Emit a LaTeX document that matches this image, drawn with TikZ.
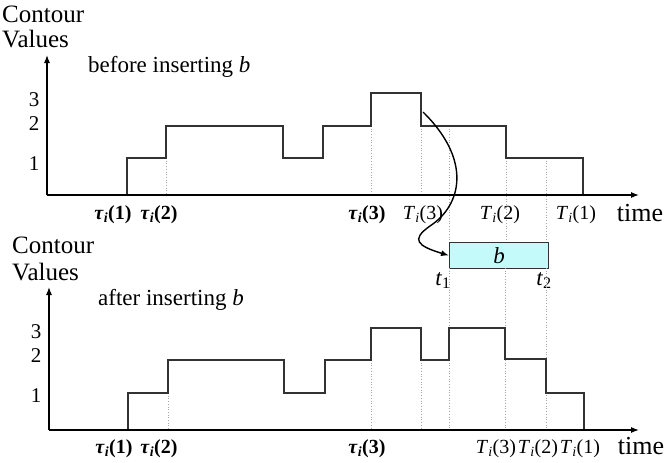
\documentclass[tikz,border=0pt]{standalone}
\usepackage{fontspec}
\setmainfont{Liberation Serif}
\usetikzlibrary{arrows.meta}
\definecolor{boxcyan}{RGB}{196,250,250}
\definecolor{stepgray}{RGB}{50,50,50}
\tikzset{
  stepline/.style={draw=stepgray, line width=1.3pt},
  axisline/.style={draw=black, line width=1.2pt, -{Latex[length=8pt,width=6pt]}},
  dotline/.style={draw=black!35, line width=0.7pt, dotted},
  headtxt/.style={inner sep=0pt, font=\fontsize{25}{27}\selectfont},
  bigtxt/.style={inner sep=0pt, font=\fontsize{23}{25}\selectfont},
  timetxt/.style={inner sep=0pt, font=\fontsize{26}{28}\selectfont},
  numtxt/.style={inner sep=0pt, font=\fontsize{21}{23}\selectfont},
  lbltxt/.style={inner sep=0pt, anchor=base, font=\fontsize{20}{22}\selectfont},
  Tlbltxt/.style={inner sep=0pt, anchor=base, font=\fontsize{20}{22}\selectfont},
  bbox/.style={draw=stepgray, line width=1.2pt, fill=boxcyan},
}
\newcommand{\tauL}[1]{\textbf{\textit{τ}\textsubscript{\textit{i}}(#1)}}
\newcommand{\TL}[1]{\textit{T}\textsubscript{\textit{i}}(#1)}
\begin{document}
\begin{tikzpicture}[x=1pt,y=-1pt]
\useasboundingbox (0,0) rectangle (667,463);
% ---------------- top chart ----------------
\node[headtxt, anchor=base west] (c1) at (2,22) {Contour};
\node[headtxt, anchor=base west] (v1) at (2,47) {Values};
\node[bigtxt, anchor=base west] (bef) at (88,72) {before inserting \textit{b}};
\node[numtxt] (n13) at (34,100) {3};
\node[numtxt] (n12) at (34,124) {2};
\node[numtxt] (n11) at (34,164) {1};
% dotted guides
\draw[dotline] (166,158) -- (166,195);
\draw[dotline] (371,126) -- (371,195);
\draw[dotline] (421,126) -- (421,195);
\draw[dotline] (449,126) -- (449,242);
\draw[dotline] (506,158) -- (506,242);
\draw[dotline] (546,158) -- (546,242);
% step
\draw[stepline] (127,195) |- (166,158) |- (283,126) |- (323,158) |- (371,126) |- (421,93) |- (506,126) |- (583,158) -- (583,195);
% axes
\draw[axisline] (47,195) -- (47,55);
\draw[axisline] (47,195) -- (639,195);
\node[lbltxt] (a1) at (113,219) {\tauL{1}};
\node[lbltxt] (a2) at (159,219) {\tauL{2}};
\node[lbltxt] (a3) at (367,219) {\tauL{3}};
\node[Tlbltxt] (b3) at (423,219) {\TL{3}};
\node[Tlbltxt] (b2) at (500,219) {\TL{2}};
\node[Tlbltxt] (b1) at (576,219) {\TL{1}};
\node[timetxt, anchor=base] (tm1) at (640,221) {time};
% ---------------- box b ----------------
\node[bbox, minimum width=99pt, minimum height=26pt, inner sep=0pt, anchor=north west] (bx) at (449,242) {};
\node[bigtxt] (bl) at (bx.center) {\textit{b}};
\node[bigtxt, anchor=base] (t1) at (443,285) {\textit{t}\textsubscript{1}};
\node[bigtxt, anchor=base] (t2) at (544,285) {\textit{t}\textsubscript{2}};
\coordinate (cs) at (423,112);
\draw[line width=1.4pt, -{Latex[length=8pt,width=6pt]}] (cs) .. controls (472,160) and (462,205) .. (430,226) .. controls (410,240) and (418,246) .. (bx.west);
% ---------------- bottom chart ----------------
\node[headtxt, anchor=base west] (c2) at (12,253) {Contour};
\node[headtxt, anchor=base west] (v2) at (12,280) {Values};
\node[bigtxt, anchor=base west] (aft) at (98,305) {after inserting \textit{b}};
\node[numtxt] (n23) at (36,332) {3};
\node[numtxt] (n22) at (36,356) {2};
\node[numtxt] (n21) at (36,396) {1};
\draw[dotline] (168,393) -- (168,430);
\draw[dotline] (371,360) -- (371,430);
\draw[dotline] (421,360) -- (421,430);
\draw[dotline] (449,268) -- (449,430);
\draw[dotline] (505,268) -- (505,430);
\draw[dotline] (546,268) -- (546,430);
\draw[stepline] (128,430) |- (168,393) |- (284,360) |- (325,393) |- (371,360) |- (421,328) |- (449,360) |- (505,328) |- (546,359) |- (584,393) -- (584,430);
\draw[axisline] (49,430) -- (49,287);
\draw[axisline] (49,430) -- (639,430);
\node[lbltxt] (d1) at (114,453) {\tauL{1}};
\node[lbltxt] (d2) at (159,453) {\tauL{2}};
\node[lbltxt] (d3) at (367,453) {\tauL{3}};
\node[Tlbltxt] (e3) at (496,453) {\TL{3}};
\node[Tlbltxt] (e2) at (538,453) {\TL{2}};
\node[Tlbltxt] (e1) at (580,453) {\TL{1}};
\node[timetxt, anchor=base] (tm2) at (641,454) {time};
\end{tikzpicture}
\end{document}
